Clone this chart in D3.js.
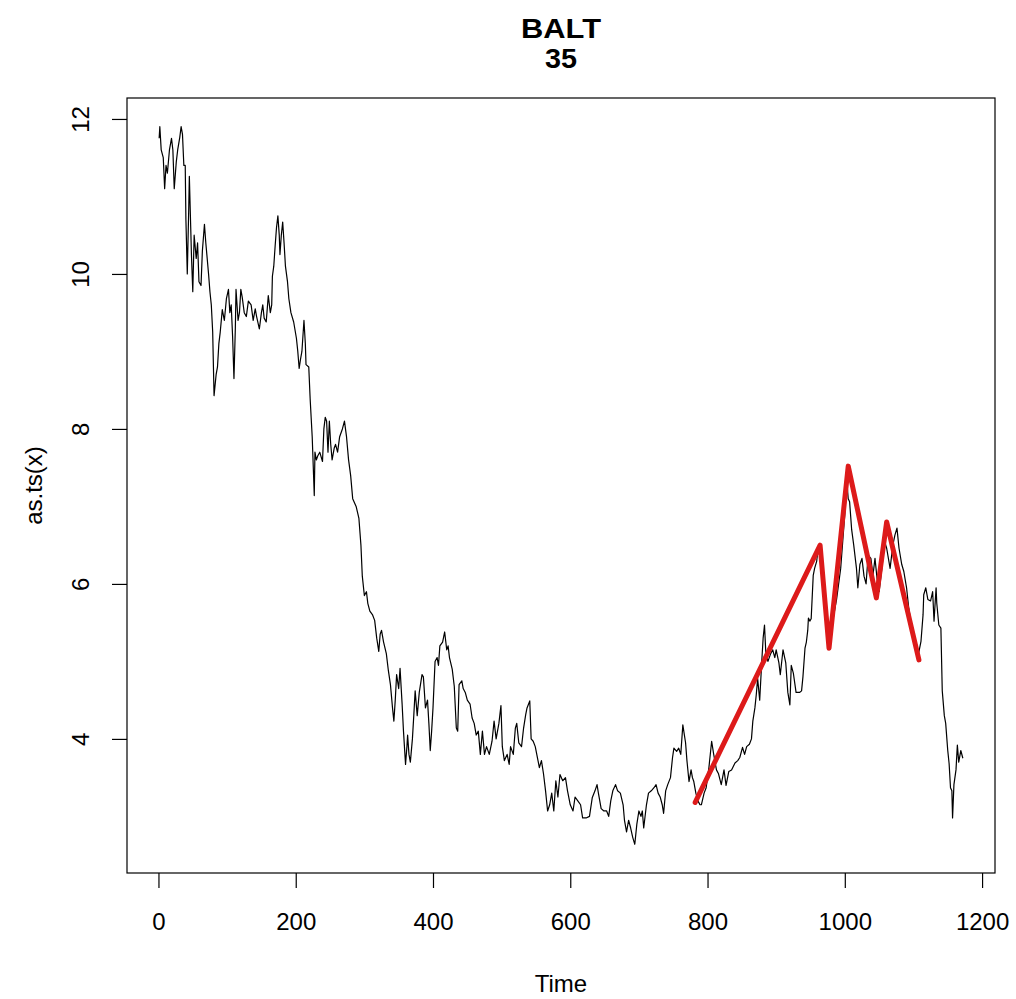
<!DOCTYPE html>
<html>
<head>
<meta charset="utf-8">
<script src="https://cdn.jsdelivr.net/npm/d3@7"></script>
<style>
  body { margin: 0; background: #fff; }
  text { font-family: "Liberation Sans", Arial, sans-serif; fill: #000; }
</style>
</head>
<body>
<div id="chart"></div>
<script>
// series: [time index, value]
const priceSeries = [
  [1,11.75],[2,11.9],[4,11.6],[7,11.5],[9,11.1],[11,11.4],[13,11.3],[16,11.6],[19,11.75],[21,11.6],
  [23,11.1],[26,11.45],[28,11.6],[31,11.76],[33,11.9],[35,11.8],[37,11.4],[39,11.4],[40,10.7],[42,10.0],
  [44,10.8],[45,11.26],[47,10.6],[48,10.26],[50,9.77],[52,10.5],[55,10.2],[57,10.4],[59,9.9],[62,9.85],
  [64,10.3],[67,10.64],[69,10.4],[71,10.2],[73,10.0],[75,9.77],[77,9.6],[79,9.25],[81,8.43],[84,8.7],
  [86,8.8],[88,9.1],[90,9.25],[93,9.54],[96,9.4],[99,9.68],[102,9.8],[104,9.5],[106,9.6],[108,9.2],
  [110,8.65],[112,9.3],[113,9.8],[116,9.4],[118,9.5],[120,9.8],[122,9.7],[125,9.5],[128,9.45],[131,9.65],
  [135,9.6],[138,9.4],[141,9.55],[143,9.45],[147,9.29],[150,9.5],[152,9.6],[154,9.43],[157,9.38],[160,9.72],
  [163,9.5],[165,9.6],[166,9.97],[168,10.1],[170,10.36],[172,10.6],[174,10.75],[176,10.5],[177,10.25],[179,10.5],
  [181,10.67],[183,10.4],[185,10.1],[188,9.9],[190,9.68],[193,9.5],[197,9.38],[201,9.17],[203,9.0],[205,8.78],
  [207,8.9],[209,9.0],[212,9.4],[214,9.1],[215,8.83],[219,8.8],[221,8.39],[224,7.9],[226,7.4],[227,7.14],
  [228,7.7],[230,7.6],[232,7.65],[235,7.7],[239,7.58],[241,8.0],[243,8.15],[245,8.1],[247,7.7],[249,8.1],
  [251,7.8],[253,7.6],[256,7.75],[258,7.8],[261,7.7],[264,7.9],[268,8.0],[271,8.1],[274,7.9],[277,7.6],
  [280,7.4],[283,7.1],[288,7.0],[292,6.85],[295,6.5],[297,6.1],[300,5.85],[303,5.9],[305,5.75],[308,5.65],
  [312,5.6],[315,5.53],[318,5.3],[321,5.13],[323,5.35],[325,5.4],[328,5.25],[332,5.1],[335,4.88],[338,4.7],
  [341,4.4],[343,4.23],[345,4.5],[347,4.83],[350,4.65],[352,4.91],[355,4.45],[357,4.1],[360,3.67],[362,3.9],
  [363,4.05],[365,3.8],[367,3.7],[370,4.0],[372,4.3],[374,4.62],[377,4.3],[380,4.6],[384,4.83],[386,4.8],
  [389,4.4],[392,4.5],[394,4.2],[396,3.85],[398,4.1],[400,4.4],[403,5.0],[406,5.05],[408,4.95],[410,5.2],
  [414,5.25],[417,5.38],[420,5.15],[422,5.2],[424,5.05],[428,4.9],[431,4.68],[434,4.14],[436,4.1],[438,4.7],
  [442,4.75],[444,4.65],[447,4.6],[450,4.5],[454,4.45],[457,4.27],[460,4.2],[463,4.05],[466,4.1],[469,3.8],
  [472,4.1],[475,3.8],[478,3.9],[482,3.8],[486,3.97],[489,4.23],[492,4.0],[496,4.2],[499,4.43],[501,3.9],
  [504,3.72],[508,3.8],[511,3.67],[513,3.9],[517,3.8],[520,4.14],[522,4.2],[525,3.95],[529,3.9],[532,4.14],
  [535,4.31],[537,4.4],[541,4.49],[543,4.0],[546,3.97],[549,3.9],[553,3.72],[555,3.63],[558,3.72],[561,3.55],
  [564,3.33],[567,3.07],[570,3.15],[573,3.3],[576,3.07],[579,3.46],[582,3.25],[585,3.54],[589,3.46],[593,3.5],
  [596,3.33],[600,3.15],[604,3.07],[607,3.25],[611,3.2],[615,3.15],[618,2.98],[623,2.98],[628,3.0],[632,3.24],
  [636,3.33],[639,3.41],[641,3.3],[645,3.1],[649,3.07],[653,3.07],[656,3.0],[659,3.2],[662,3.33],[666,3.41],
  [669,3.33],[673,3.3],[677,3.15],[679,2.95],[682,2.8],[685,2.95],[688,2.85],[691,2.73],[694,2.64],[697,2.9],
  [700,3.07],[703,3.0],[705,3.07],[707,2.85],[711,3.15],[714,3.3],[718,3.33],[722,3.37],[725,3.41],[728,3.3],
  [731,3.25],[734,3.15],[736,3.04],[739,3.33],[742,3.41],[746,3.5],[749,3.76],[751,3.88],[755,3.84],[758,3.88],
  [761,3.8],[764,4.18],[768,3.95],[770,3.72],[773,3.45],[776,3.6],[778,3.5],[780,3.45],[783,3.3],[786,3.2],
  [789,3.15],[791,3.15],[795,3.3],[798,3.37],[802,3.63],[806,3.97],[809,3.8],[813,3.6],[816,3.55],[820,3.41],
  [824,3.6],[827,3.4],[831,3.58],[835,3.6],[840,3.69],[844,3.72],[847,3.76],[851,3.89],[854,3.8],[857,3.9],
  [861,3.93],[864,4.0],[866,4.23],[869,4.4],[871,4.57],[873,4.78],[876,4.5],[879,5.0],[881,5.3],[883,5.47],
  [885,5.1],[888,5.0],[892,5.1],[895,5.15],[898,5.05],[900,5.15],[904,4.98],[906,4.83],[910,5.15],[914,4.98],
  [917,4.6],[920,4.44],[922,4.95],[925,4.85],[929,4.6],[934,4.6],[937,4.62],[939,4.8],[942,5.17],[944,5.25],
  [946,5.4],[947,5.56],[949,5.52],[951,5.55],[954,6.11],[956,6.2],[959,6.29],[961,6.45],[964,6.4],[966,6.2],
  [968,6.04],[971,5.8],[974,5.6],[977,5.3],[980,5.4],[984,5.6],[988,5.8],[991,6.0],[994,6.2],[997,6.55],
  [1000,6.9],[1003,7.32],[1005,7.1],[1007,7.06],[1010,6.7],[1013,6.5],[1017,6.2],[1019,5.95],[1022,6.25],[1025,6.33],
  [1028,6.1],[1031,6.0],[1034,6.37],[1038,6.33],[1041,6.11],[1044,6.33],[1047,6.07],[1050,5.9],[1054,6.2],[1058,6.55],
  [1061,6.46],[1066,6.2],[1070,6.5],[1073,6.63],[1076,6.72],[1079,6.46],[1083,6.25],[1086,6.16],[1090,5.95],[1093,5.7],
  [1097,5.47],[1100,5.3],[1104,5.15],[1107,5.08],[1111,5.26],[1114,5.6],[1115,5.86],[1118,5.95],[1121,5.8],[1125,5.78],
  [1128,5.9],[1130,5.52],[1133,5.95],[1134,5.75],[1137,5.47],[1140,5.43],[1142,4.62],[1145,4.3],[1147,4.2],[1150,3.85],
  [1152,3.68],[1154,3.37],[1156,3.33],[1157,2.98],[1159,3.41],[1162,3.6],[1164,3.92],[1166,3.7],[1169,3.85],[1172,3.75]
];

// red zigzag overlay
const zigzag = [[782,3.18],[964,6.5],[977,5.17],[1005,7.52],[1046,5.82],[1061,6.8],[1108,5.02]];

const xTicks = [0, 200, 400, 600, 800, 1000, 1200];
const yTicks = [4, 6, 8, 10, 12];
const titleLines = ['BALT', '35'];

const width = 1016, height = 999;
const box = { left: 127, right: 995, top: 98, bottom: 873 };

// R style 4% padding on the data range
function padRange(ext) {
  const d = (ext[1] - ext[0]) * 0.04;
  return [ext[0] - d, ext[1] + d];
}

const x = d3.scaleLinear()
  .domain(padRange(d3.extent(priceSeries, d => d[0])))
  .range([box.left, box.right]);
const y = d3.scaleLinear()
  .domain(padRange(d3.extent(priceSeries, d => d[1])))
  .range([box.bottom, box.top]);

const svg = d3.select('#chart').append('svg')
  .attr('width', width)
  .attr('height', height)
  .style('background', '#fff');

const line = d3.line().x(d => x(d[0])).y(d => y(d[1]));

svg.append('path')
  .datum(priceSeries)
  .attr('d', line)
  .attr('fill', 'none')
  .attr('stroke', '#000')
  .attr('stroke-width', 1.2)
  .attr('stroke-linejoin', 'round');

svg.append('path')
  .datum(zigzag)
  .attr('d', line)
  .attr('fill', 'none')
  .attr('stroke', '#dd1a1a')
  .attr('stroke-width', 5)
  .attr('stroke-linejoin', 'round')
  .attr('stroke-linecap', 'round');

// plot box
svg.append('rect')
  .attr('x', box.left)
  .attr('y', box.top)
  .attr('width', box.right - box.left)
  .attr('height', box.bottom - box.top)
  .attr('fill', 'none')
  .attr('stroke', '#000')
  .attr('stroke-width', 1.2);

// x axis
const gx = svg.append('g')
  .attr('transform', `translate(0,${box.bottom})`)
  .call(d3.axisBottom(x).tickValues(xTicks).tickSize(15).tickPadding(25).tickFormat(d3.format('d')));
gx.select('.domain').remove();
gx.selectAll('line').attr('stroke', '#000').attr('stroke-width', 1.2);
gx.selectAll('text')
  .attr('fill', '#000')
  .style('font-size', '24px');

// y axis, labels parallel to the axis
const gy = svg.append('g')
  .attr('transform', `translate(${box.left},0)`)
  .call(d3.axisLeft(y).tickValues(yTicks).tickSize(15).tickFormat(d3.format('d')));
gy.select('.domain').remove();
gy.selectAll('line').attr('stroke', '#000').attr('stroke-width', 1.2);
gy.selectAll('text')
  .attr('x', 0)
  .attr('y', -38)
  .attr('dy', null)
  .attr('transform', 'rotate(-90)')
  .attr('text-anchor', 'middle')
  .attr('fill', '#000')
  .style('font-size', '24px');

const cx = (box.left + box.right) / 2;

svg.append('text')
  .attr('x', cx)
  .attr('y', 992)
  .attr('text-anchor', 'middle')
  .style('font-size', '24px')
  .text('Time');

svg.append('text')
  .attr('transform', `translate(42,${(box.top + box.bottom) / 2}) rotate(-90)`)
  .attr('text-anchor', 'middle')
  .style('font-size', '24px')
  .text('as.ts(x)');

// two-line bold title, stretched a little to the reference width
svg.selectAll('.title')
  .data(titleLines)
  .enter()
  .append('text')
  .attr('class', 'title')
  .attr('x', cx)
  .attr('y', (d, i) => 38 + i * 30)
  .attr('text-anchor', 'middle')
  .attr('textLength', (d, i) => i === 0 ? 80 : 32)
  .attr('lengthAdjust', 'spacingAndGlyphs')
  .style('font-size', '27px')
  .style('font-weight', '700')
  .text(d => d);
</script>
</body>
</html>
